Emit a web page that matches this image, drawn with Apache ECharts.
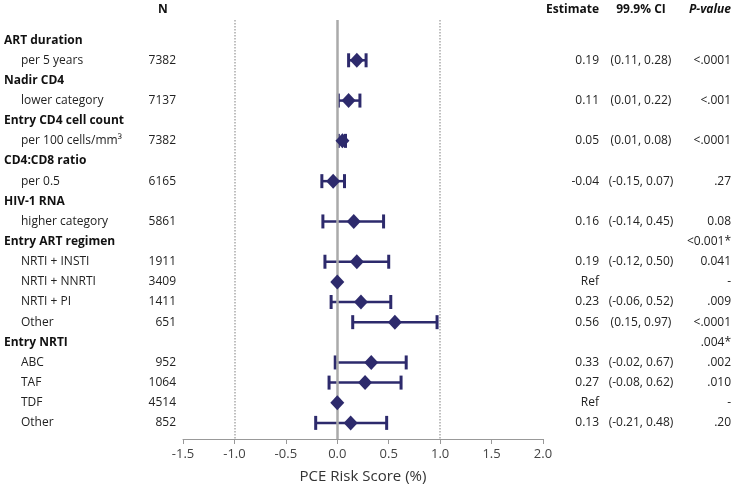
<!DOCTYPE html>
<html><head><meta charset="utf-8">
<script src="https://cdn.jsdelivr.net/npm/echarts@6/dist/echarts.min.js"></script>
<style>html,body{margin:0;padding:0;background:#fff}#c{width:733px;height:489px}</style>
</head><body><div id="c"></div>
<script>
const rowLabels = ['ART duration','per 5 years','Nadir CD4','lower category','Entry CD4 cell count','per 100 cells/mm³','CD4:CD8 ratio','per 0.5','HIV-1 RNA','higher category','Entry ART regimen','NRTI + INSTI','NRTI + NNRTI','NRTI + PI','Other','Entry NRTI','ABC','TAF','TDF','Other'];
const isHeader = [1,0,1,0,1,0,1,0,1,0,1,0,0,0,0,1,0,0,0,0];
const nValues = ['','7382','','7137','','7382','','6165','','5861','','1911','3409','1411','651','','952','1064','4514','852'];
const estimates = [null,0.19,null,0.11,null,0.05,null,-0.04,null,0.16,null,0.19,0,0.23,0.56,null,0.33,0.27,0,0.13];
const ciLower = [null,0.11,null,0.01,null,0.01,null,-0.15,null,-0.14,null,-0.12,null,-0.06,0.15,null,-0.02,-0.08,null,-0.21];
const ciUpper = [null,0.28,null,0.22,null,0.08,null,0.07,null,0.45,null,0.50,null,0.52,0.97,null,0.67,0.62,null,0.48];
const estimateText = ['','0.19','','0.11','','0.05','','-0.04','','0.16','','0.19','Ref','0.23','0.56','','0.33','0.27','Ref','0.13'];
const ciText = ['','(0.11, 0.28)','','(0.01, 0.22)','','(0.01, 0.08)','','(-0.15, 0.07)','','(-0.14, 0.45)','','(-0.12, 0.50)','','(-0.06, 0.52)','(0.15, 0.97)','','(-0.02, 0.67)','(-0.08, 0.62)','','(-0.21, 0.48)'];
const pText = ['','<.0001','','<.001','','<.0001','','.27','','0.08','<0.001*','0.041','-','.009','<.0001','.004*','.002','.010','-','.20'];
const columnHeaders = ['N','Estimate','99.9% CI','P-value'];
const xTicks = [-1.5,-1.0,-0.5,0.0,0.5,1.0,1.5,2.0];
const refLines = [-1, 0, 1];

const NAVY = '#2d2a6c';
const FONT = '"Open Sans", "Noto Sans", sans-serif';
const TXT = '#222';

const chart = echarts.init(document.getElementById('c'));

const ciData = [];
const ptData = [];
estimates.forEach((e,i)=>{
  if (e !== null) ptData.push([e,i]);
  if (ciLower[i] !== null) ciData.push([ciLower[i], ciUpper[i], i]);
});

function txt(x,y,s,opt){
  return {type:'text', x:x, y:y, style:Object.assign({text:s, fill:TXT, font:'12px '+FONT, textVerticalAlign:'middle', textAlign:'left'}, opt||{})};
}

chart.setOption({
  animation:false,
  grid:{left:183, right:190, top:20, bottom:49},
  xAxis:{type:'value', position:'bottom', min:xTicks[0], max:xTicks[xTicks.length-1], interval:0.5,
    axisLine:{onZero:false, lineStyle:{color:'#999', width:1}}, axisTick:{length:5, lineStyle:{color:'#999'}},
    axisLabel:{formatter:v=>v.toFixed(1), color:'#444', fontSize:13, fontFamily:FONT, margin:9},
    splitLine:{show:false},
    name:'PCE Risk Score (%)', nameLocation:'middle', nameGap:30,
    nameTextStyle:{color:'#333', fontSize:15, fontFamily:FONT}},
  yAxis:{type:'value', inverse:true, min:-1, max:19.8, show:false},
  series:[
    {type:'custom', name:'text', silent:true, clip:false,
     data: rowLabels.map((_,i)=>[0,i]),
     encode:{x:0,y:1},
     renderItem:function(params, api){
       const i = api.value(1);
       const y = api.coord([0,i])[1];
       const ch = [];
       if (isHeader[i]) ch.push(txt(4,y,rowLabels[i],{font:'bold 12px '+FONT, fill:'#111'}));
       else ch.push(txt(21,y,rowLabels[i]));
       if (nValues[i]) ch.push(txt(176,y,nValues[i],{textAlign:'right'}));
       if (estimateText[i]) ch.push(txt(599,y,estimateText[i],{textAlign:'right'}));
       if (ciText[i]) ch.push(txt(641,y,ciText[i],{textAlign:'center'}));
       if (pText[i]) ch.push(txt(731,y,pText[i],{textAlign:'right'}));
       if (i===0){
         const hy = y-31;
         ch.push(txt(163,hy,columnHeaders[0],{textAlign:'center', font:'bold 12px '+FONT, fill:'#111'}));
         ch.push(txt(599,hy,columnHeaders[1],{textAlign:'right', font:'bold 12px '+FONT, fill:'#111'}));
         ch.push(txt(641,hy,columnHeaders[2],{textAlign:'center', font:'bold 12px '+FONT, fill:'#111'}));
         ch.push(txt(731,hy,columnHeaders[3],{textAlign:'right', font:'italic bold 12px '+FONT, fill:'#111'}));
       }
       return {type:'group', children:ch};
     },
     markLine:{silent:true, symbol:'none', label:{show:false},
       data:[
         {xAxis:refLines[0], lineStyle:{color:'#aaa', type:'dotted', width:1.5}},
         {xAxis:refLines[1], lineStyle:{color:'#aaa', type:'solid', width:2.5}},
         {xAxis:refLines[2], lineStyle:{color:'#aaa', type:'dotted', width:1.5}}
       ]}
    },
    {type:'custom', name:'ci', silent:true,
     data: ciData, encode:{x:[0,1], y:2},
     renderItem:function(params, api){
       const i = api.value(2);
       const p1 = api.coord([api.value(0), i]);
       const p2 = api.coord([api.value(1), i]);
       const h = 7;
       const st = {stroke:NAVY, lineWidth:2.5};
       return {type:'group', children:[
         {type:'line', shape:{x1:p1[0],y1:p1[1],x2:p2[0],y2:p2[1]}, style:st},
         {type:'line', shape:{x1:p1[0],y1:p1[1]-h,x2:p1[0],y2:p1[1]+h}, style:{stroke:NAVY, lineWidth:3}},
         {type:'line', shape:{x1:p2[0],y1:p2[1]-h,x2:p2[0],y2:p2[1]+h}, style:{stroke:NAVY, lineWidth:3}}
       ]};
     }},
    {type:'scatter', name:'est', data: ptData, symbol:'diamond', symbolSize:[14,15],
     itemStyle:{color:NAVY, opacity:1}, silent:true, z:5}
  ]
});
</script></body></html>
